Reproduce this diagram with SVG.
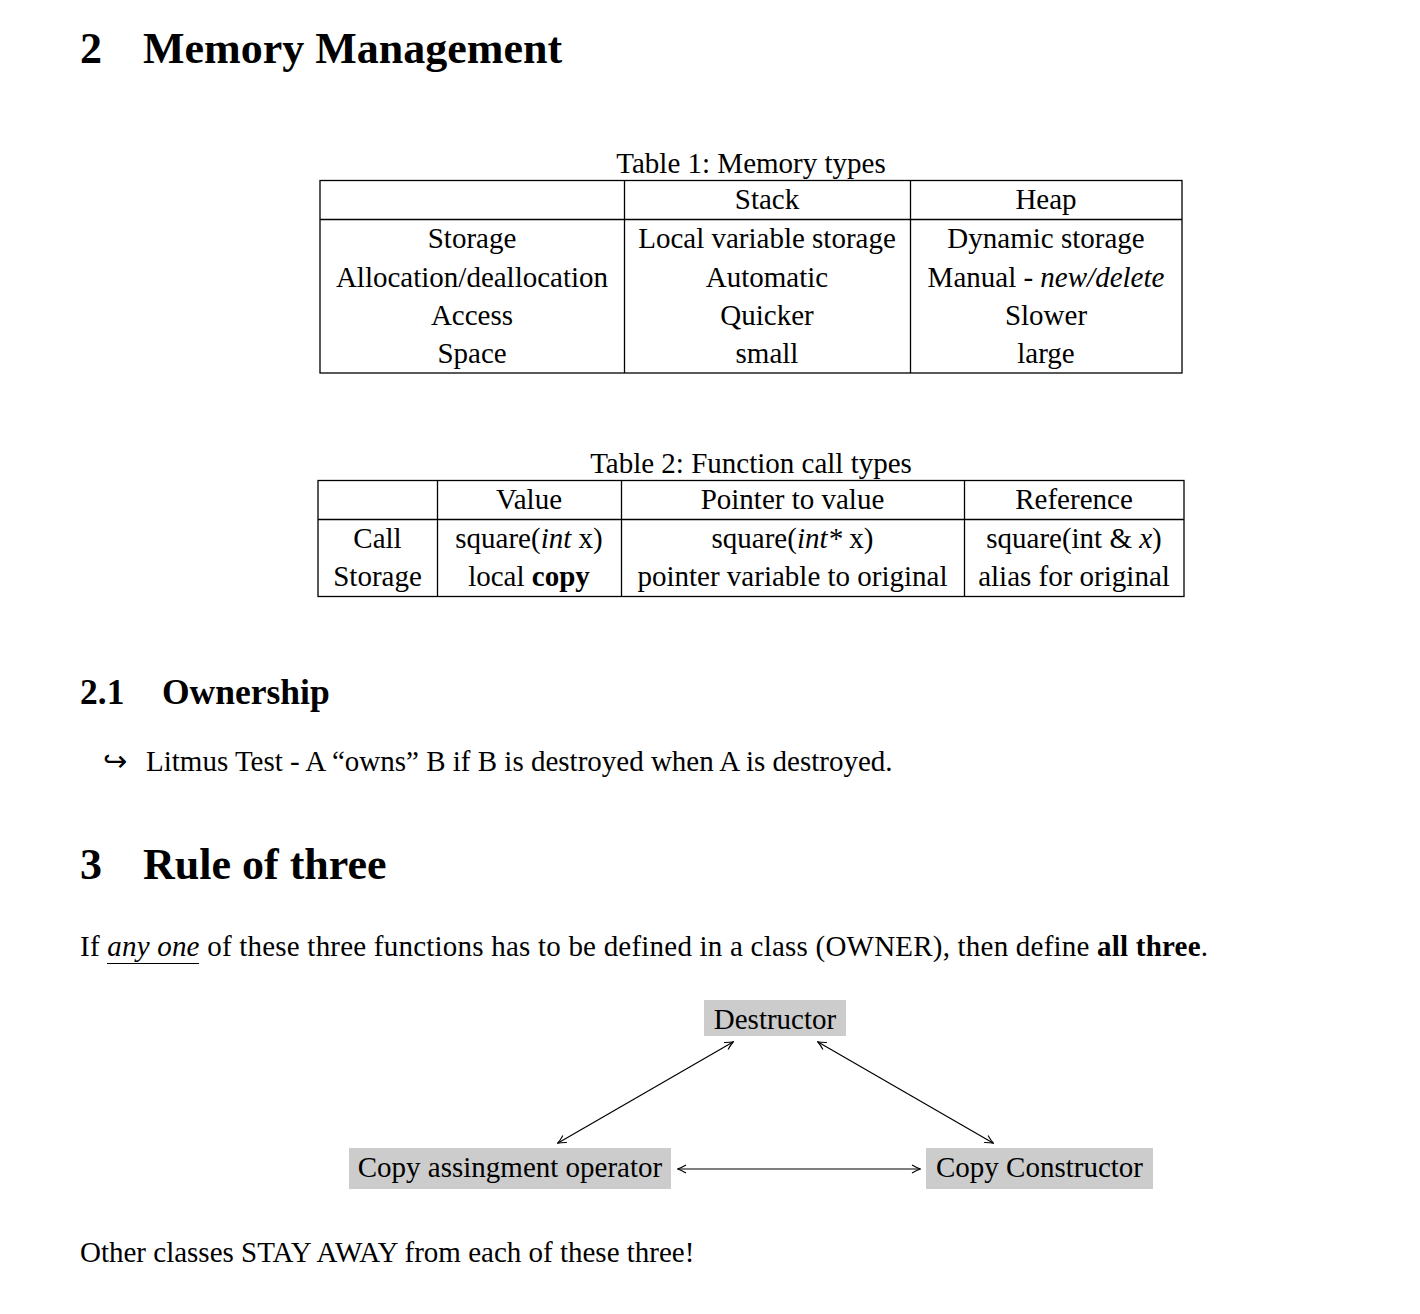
<svg xmlns="http://www.w3.org/2000/svg" width="1420" height="1314" viewBox="0 0 1420 1314">
<style>
text{font-family:"Liberation Serif","Times New Roman",serif;fill:#000;font-size:29px}
.h1{font-size:44px;font-weight:bold}
.h2{font-size:35.5px;font-weight:bold}
.c{text-anchor:middle}
.grid{stroke:#000;stroke-width:1.3;fill:none}
.node rect{fill:#cccccc}
.conn line{stroke:#000;stroke-width:1.2;fill:none}
</style>
<defs>
<marker id="ah" viewBox="0 0 10 10" refX="9" refY="5" markerWidth="10" markerHeight="10" markerUnits="userSpaceOnUse" orient="auto-start-reverse">
<path d="M1,1 Q6,4 9.5,5 Q6,6 1,9" fill="none" stroke="#000" stroke-width="1.1"/>
</marker>
</defs>
<rect width="1420" height="1314" fill="#fff"/>

<text class="h1" x="80" y="63">2</text>
<text class="h1" x="143" y="63">Memory Management</text>

<g id="table1">
<text class="c" x="751" y="173">Table 1: Memory types</text>
<rect class="grid" x="320" y="180.5" width="862" height="192.5"/>
<line class="grid" x1="320" y1="219.5" x2="1182" y2="219.5"/>
<line class="grid" x1="624.5" y1="180" x2="624.5" y2="373"/>
<line class="grid" x1="910.5" y1="180" x2="910.5" y2="373"/>
<text class="c" x="767" y="209">Stack</text>
<text class="c" x="1046" y="209">Heap</text>
<text class="c" x="472" y="248">Storage</text>
<text class="c" x="767" y="248">Local variable storage</text>
<text class="c" x="1046" y="248">Dynamic storage</text>
<text class="c" x="472" y="287">Allocation/deallocation</text>
<text class="c" x="767" y="287">Automatic</text>
<text class="c" x="1046" y="287">Manual - <tspan font-style="italic">new/delete</tspan></text>
<text class="c" x="472" y="325">Access</text>
<text class="c" x="767" y="325">Quicker</text>
<text class="c" x="1046" y="325">Slower</text>
<text class="c" x="472" y="363">Space</text>
<text class="c" x="767" y="363">small</text>
<text class="c" x="1046" y="363">large</text>
</g>

<g id="table2">
<text class="c" x="751" y="473">Table 2: Function call types</text>
<rect class="grid" x="318" y="480.5" width="866" height="116"/>
<line class="grid" x1="318" y1="519.5" x2="1184" y2="519.5"/>
<line class="grid" x1="437.5" y1="480" x2="437.5" y2="597"/>
<line class="grid" x1="621.5" y1="480" x2="621.5" y2="597"/>
<line class="grid" x1="964.5" y1="480" x2="964.5" y2="597"/>
<text class="c" x="529" y="509">Value</text>
<text class="c" x="792.5" y="509">Pointer to value</text>
<text class="c" x="1074" y="509">Reference</text>
<text class="c" x="377.5" y="548">Call</text>
<text class="c" x="529" y="548">square(<tspan font-style="italic">int</tspan> x)</text>
<text class="c" x="792.5" y="548">square(<tspan font-style="italic">int*</tspan> x)</text>
<text class="c" x="1074" y="548">square(int &amp; <tspan font-style="italic">x</tspan>)</text>
<text class="c" x="377.5" y="586">Storage</text>
<text class="c" x="529" y="586">local <tspan font-weight="bold">copy</tspan></text>
<text class="c" x="792.5" y="586">pointer variable to original</text>
<text class="c" x="1074" y="586">alias for original</text>
</g>

<text class="h2" x="80" y="704">2.1</text>
<text class="h2" x="162" y="704">Ownership</text>
<text x="103" y="771">↪</text>
<text x="146" y="771">Litmus Test - A “owns” B if B is destroyed when A is destroyed.</text>

<text class="h1" x="80" y="879">3</text>
<text class="h1" x="143" y="879">Rule of three</text>

<text x="80" y="956" textLength="1128" lengthAdjust="spacing">If <tspan font-style="italic">any one</tspan> of these three functions has to be defined in a class (OWNER), then define <tspan font-weight="bold">all three</tspan>.</text>
<line x1="107" y1="963.5" x2="199" y2="963.5" stroke="#000" stroke-width="1.2"/>

<g class="conn" id="connectors">
<line x1="733" y1="1042" x2="558" y2="1143" marker-start="url(#ah)" marker-end="url(#ah)"/>
<line x1="818" y1="1042" x2="993" y2="1143" marker-start="url(#ah)" marker-end="url(#ah)"/>
<line x1="678" y1="1169" x2="920" y2="1169" marker-start="url(#ah)" marker-end="url(#ah)"/>
</g>

<g class="node" id="destructor">
<rect x="704" y="1000" width="142" height="36"/>
<text class="c" x="775" y="1029">Destructor</text>
</g>
<g class="node" id="copy-assign">
<rect x="349" y="1148" width="322" height="41"/>
<text class="c" x="510" y="1177">Copy assingment operator</text>
</g>
<g class="node" id="copy-ctor">
<rect x="926" y="1148" width="227" height="41"/>
<text class="c" x="1039.5" y="1177">Copy Constructor</text>
</g>

<text x="80" y="1262">Other classes STAY AWAY from each of these three!</text>
</svg>
